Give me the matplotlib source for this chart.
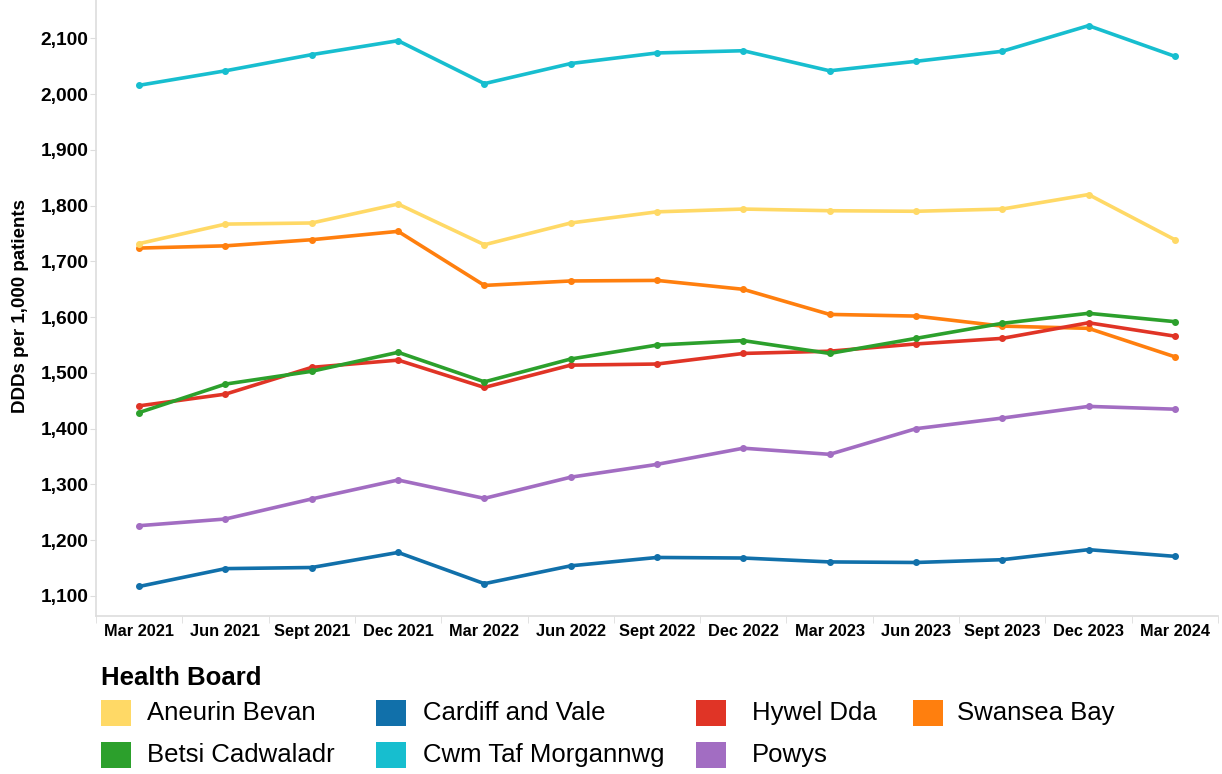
import numpy as np
import matplotlib.pyplot as plt
from matplotlib.patches import Rectangle
from matplotlib.ticker import FuncFormatter

quarters = ['Mar 2021', 'Jun 2021', 'Sept 2021', 'Dec 2021', 'Mar 2022', 'Jun 2022',
            'Sept 2022', 'Dec 2022', 'Mar 2023', 'Jun 2023', 'Sept 2023', 'Dec 2023', 'Mar 2024']

aneurin_bevan = [1732, 1767, 1769, 1803, 1730, 1769, 1789, 1794, 1791, 1790, 1794, 1820, 1739]
betsi_cadwaladr = [1429, 1480, 1503, 1537, 1484, 1525, 1550, 1558, 1535, 1562, 1589, 1607, 1592]
cardiff_vale = [1117, 1149, 1151, 1178, 1122, 1154, 1169, 1168, 1161, 1160, 1165, 1183, 1171]
cwm_taf = [2016, 2042, 2071, 2096, 2019, 2055, 2074, 2078, 2042, 2059, 2077, 2123, 2068]
hywel_dda = [1441, 1462, 1510, 1523, 1474, 1514, 1516, 1535, 1539, 1552, 1562, 1590, 1566]
powys = [1226, 1238, 1274, 1308, 1275, 1313, 1336, 1365, 1354, 1400, 1419, 1440, 1435]
swansea_bay = [1724, 1728, 1739, 1754, 1657, 1665, 1666, 1650, 1605, 1602, 1584, 1580, 1529]

boards = ['Aneurin Bevan', 'Betsi Cadwaladr', 'Cardiff and Vale', 'Cwm Taf Morgannwg',
          'Hywel Dda', 'Powys', 'Swansea Bay']
series = [aneurin_bevan, betsi_cadwaladr, cardiff_vale, cwm_taf, hywel_dda, powys, swansea_bay]
colors = ['#FFD966', '#2CA02C', '#1170AA', '#17BECF', '#E03426', '#A26DC2', '#FF7F0E']

plt.rcParams['font.family'] = ['Liberation Sans', 'DejaVu Sans']

W, H = 1222, 774
fig = plt.figure(figsize=(W / 100, H / 100), dpi=100)
ax = fig.add_axes([96 / W, 1 - 616 / H, (1218 - 96) / W, 616 / H])

x = np.arange(len(quarters))
# draw in an order so the overlaps look like the original
for i in [5, 2, 6, 4, 1, 0, 3]:
    ax.plot(x, series[i], color=colors[i], lw=2.6, marker='o', ms=4, solid_joinstyle='round')

ax.set_xlim(-0.5, len(quarters) - 0.5)
ax.set_ylim(1064, 2169)
ax.set_yticks(range(1100, 2101, 100))
ax.yaxis.set_major_formatter(FuncFormatter(lambda v, p: f'{int(v):,}'))
ax.set_xticks(x)
ax.set_xticklabels(quarters)
ax.set_xticks(np.arange(-0.5, len(quarters), 1), minor=True)

for s in ['top', 'right']:
    ax.spines[s].set_visible(False)
for s in ['left', 'bottom']:
    ax.spines[s].set_color('#dddddd')
    ax.spines[s].set_linewidth(1.2)

ax.tick_params(axis='x', which='major', length=0, pad=6, labelsize=11.8)
ax.tick_params(axis='x', which='minor', length=5, color='#dddddd')
ax.tick_params(axis='y', length=4, color='#dddddd', pad=1.5, labelsize=13.8)
for lab in ax.get_xticklabels() + ax.get_yticklabels():
    lab.set_fontweight('bold')

fig.text(21 / W, 1 - 306 / H, 'DDDs per 1,000 patients', fontsize=13.5, fontweight='bold',
         rotation=90, va='center', ha='center')

# legend drawn by hand to match the original layout
fig.text(101 / W, 1 - 678 / H, 'Health Board', fontsize=18.5, fontweight='bold',
         va='center', ha='left')
col_x = [101, 376, 696, 913]
text_off = [46, 47, 56, 44]
row_y = [713, 755]
for k, (name, c) in enumerate(zip(boards, colors)):
    col, row = divmod(k, 2)
    x0 = col_x[col]
    y0 = row_y[row]
    fig.patches.append(Rectangle((x0 / W, 1 - (y0 + 13) / H), 30 / W, 26 / H,
                                 transform=fig.transFigure, facecolor=c, edgecolor='none'))
    fig.text((x0 + text_off[col]) / W, 1 - y0 / H, name, fontsize=18.5,
             va='center', ha='left')

fig.savefig('out.png', dpi=100)
